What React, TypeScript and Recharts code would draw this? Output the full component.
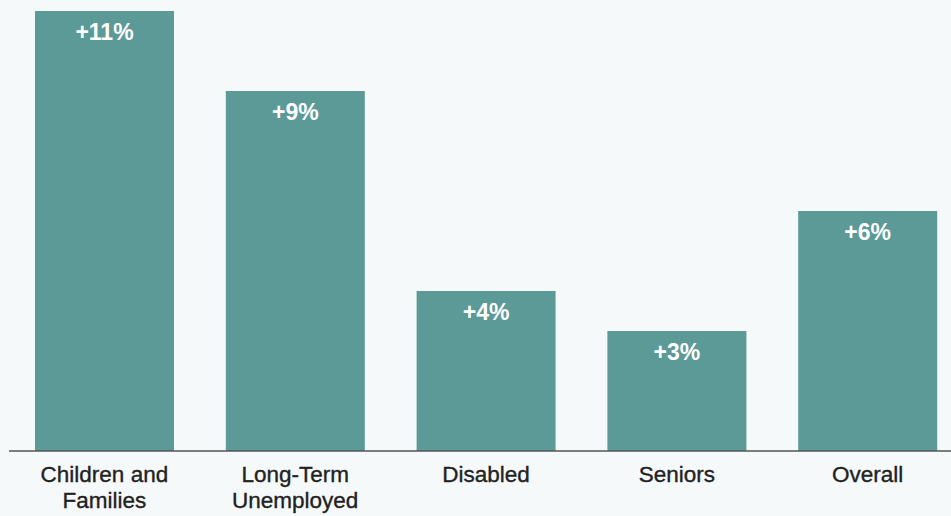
import { Bar, BarChart, LabelList, XAxis, YAxis } from 'recharts'

const categories = ['Children and Families', 'Long-Term Unemployed', 'Disabled', 'Seniors', 'Overall']
const tickLines = [['Children and', 'Families'], ['Long-Term', 'Unemployed'], ['Disabled'], ['Seniors'], ['Overall']]
const changePct = [11, 9, 4, 3, 6]
const valueLabels = ['+11%', '+9%', '+4%', '+3%', '+6%']

const BAR_COLOR = '#5c9a98'
const BG = '#f6f9f9'
const FONT = '"Liberation Sans", Arial, Helvetica, sans-serif'

const data = categories.map((name, i) => ({
  name,
  value: changePct[i],
  label: valueLabels[i],
}))

// two-line category labels under the axis
const CategoryTick = (props: any) => {
  const { x, y, index } = props
  const lines = tickLines[index] ?? []
  return (
    <text
      x={x}
      y={y}
      textAnchor="middle"
      fill="#222"
      stroke="#222"
      strokeWidth={0.35}
      fontSize={22.5}
      fontFamily={FONT}
    >
      {lines.map((line, i) => (
        <tspan key={line} x={x} dy={i === 0 ? 24.5 : 26.5}>
          {line}
        </tspan>
      ))}
    </text>
  )
}

const ValueLabel = (props: any) => {
  const { x, y, width, index } = props
  return (
    <text
      x={Number(x) + Number(width) / 2}
      y={Number(y) + 29}
      textAnchor="middle"
      fill="#ffffff"
      fontSize={23}
      fontWeight="bold"
      fontFamily={FONT}
    >
      {valueLabels[index]}
    </text>
  )
}

export default function App() {
  return (
    <div
      style={{
        position: 'absolute',
        left: 0,
        top: 0,
        width: 951,
        height: 516,
        overflow: 'hidden',
        background: BG,
      }}
    >
      <BarChart width={963} height={516} data={data} margin={{ top: 11, right: 0, left: 9, bottom: 5 }}>
        <XAxis
          dataKey="name"
          height={60}
          interval={0}
          tickLine={false}
          axisLine={{ stroke: '#555', strokeWidth: 1.5 }}
          tick={<CategoryTick />}
          tickMargin={0}
        />
        <YAxis hide domain={[0, 11]} />
        <Bar dataKey="value" fill={BAR_COLOR} barSize={139} isAnimationActive={false}>
          <LabelList dataKey="label" content={<ValueLabel />} />
        </Bar>
      </BarChart>
    </div>
  )
}
